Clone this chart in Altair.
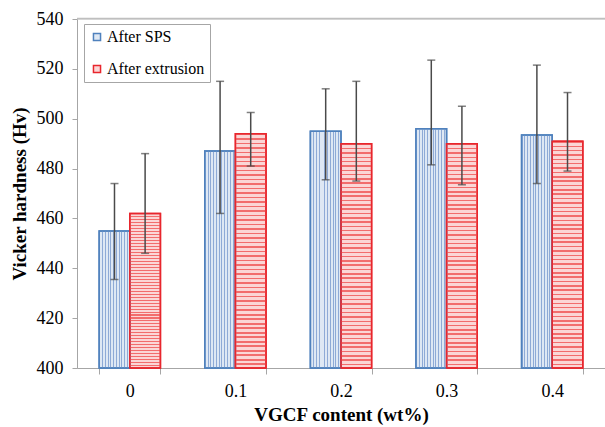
import altair as alt
import pandas as pd

categories = ["0", "0.1", "0.2", "0.3", "0.4"]
series = ["After SPS", "After extrusion"]
sps_mean = [455, 487, 495, 496, 493.5]
sps_low = [435.5, 462, 475.5, 481.5, 474]
sps_high = [474, 515, 512, 523.5, 521.5]
ext_mean = [462, 494, 490, 490, 491]
ext_low = [446, 481, 475, 473.5, 479]
ext_high = [486, 502.5, 515, 505, 510.5]
y_ticks = [400, 420, 440, 460, 480, 500, 520, 540]

rows = []
for i, c in enumerate(categories):
    rows.append(dict(cat=c, series=series[0], mean=sps_mean[i], lo=sps_low[i], hi=sps_high[i]))
    rows.append(dict(cat=c, series=series[1], mean=ext_mean[i], lo=ext_low[i], hi=ext_high[i]))
df = pd.DataFrame(rows)

W, H = 528, 349
FONT = "Liberation Serif"
BLUE_LINE = "#4f81bd"
RED_LINE = "#e8262d"
BLUE_BG = "#dee8f4"
RED_BG = "#fbd6d6"
ERR = "#4a4a4a"


def stripes(color, n, vertical):
    stops = []
    for k in range(n):
        a = k / n
        b = (k + 0.35) / n
        c = (k + 1) / n
        stops += [
            alt.GradientStop(color=color, offset=a),
            alt.GradientStop(color=color, offset=b),
            alt.GradientStop(color="rgba(255,255,255,0)", offset=b),
            alt.GradientStop(color="rgba(255,255,255,0)", offset=c),
        ]
    if vertical:
        return alt.LinearGradient(gradient="linear", stops=stops, x1=0, x2=1, y1=0, y2=0)
    return alt.LinearGradient(gradient="linear", stops=stops, x1=0, x2=0, y1=0, y2=1)


x_enc = alt.X(
    "cat:N",
    sort=categories,
    scale=alt.Scale(paddingInner=0.42, paddingOuter=0.21),
    axis=alt.Axis(
        title="VGCF content (wt%)",
        labelAngle=0,
        tickBand="extent",
        tickSize=6,
        tickColor="#a6a6a6",
        domainColor="#a6a6a6",
        labelPadding=8,
        titleY=52,
        titleBaseline="alphabetic",
    ),
)
xo_enc = alt.XOffset("series:N", sort=series, scale=alt.Scale(domain=series, paddingInner=0, paddingOuter=0))
y_scale = alt.Scale(domain=[400, 540], nice=False, zero=False)
y_enc = alt.Y(
    "mean:Q",
    scale=y_scale,
    axis=alt.Axis(
        title="Vicker hardness (Hv)",
        values=y_ticks,
        grid=False,
        tickSize=5,
        tickColor="#a6a6a6",
        domainColor="#a6a6a6",
        labelPadding=9,
        titleX=-58,
        titleY=H / 2,
        titleAngle=270,
        titleAlign="center",
        titleBaseline="middle",
    ),
)
y2_enc = alt.Y2(datum=400)

base = alt.Chart(df)

bars = base.mark_bar(strokeWidth=1.5).encode(
    x=x_enc,
    xOffset=xo_enc,
    y=y_enc,
    y2=y2_enc,
    fill=alt.Fill(
        "series:N",
        sort=series,
        scale=alt.Scale(domain=series, range=[BLUE_BG, RED_BG]),
        legend=alt.Legend(
            title=None,
            orient="none",
            legendX=7,
            legendY=5,
            symbolType="square",
            symbolSize=50,
            symbolStrokeWidth=1.5,
            rowPadding=16,
            padding=5,
            labelOffset=2,
            strokeColor="#a6a6a6",
            fillColor="#ffffff",
        ),
    ),
    stroke=alt.Stroke(
        "series:N",
        sort=series,
        scale=alt.Scale(domain=series, range=[BLUE_LINE, RED_LINE]),
    ),
)

blue_stripes = base.transform_filter(alt.datum.series == series[0]).mark_bar(
    fill=stripes("#8eaad6", 11, True), stroke=BLUE_LINE, strokeWidth=1.5
).encode(x=alt.X("cat:N", sort=categories), xOffset=alt.XOffset("series:N"), y=alt.Y("mean:Q"), y2=y2_enc)

red_stripes = base.transform_filter(alt.datum.series == series[1]).mark_bar(
    fill=stripes("#f26d6d", 52, False), stroke=RED_LINE, strokeWidth=1.5
).encode(x=alt.X("cat:N", sort=categories), xOffset=alt.XOffset("series:N"), y=alt.Y("mean:Q"), y2=y2_enc)

err = base.mark_rule(color=ERR, strokeWidth=1.5).encode(
    x=alt.X("cat:N", sort=categories),
    xOffset=alt.XOffset("series:N"),
    y=alt.Y("lo:Q"),
    y2="hi:Q",
)
cap_lo = base.mark_tick(color=ERR, thickness=1.5, size=8, orient="horizontal").encode(
    x=alt.X("cat:N", sort=categories), xOffset=alt.XOffset("series:N"), y=alt.Y("lo:Q")
)
cap_hi = base.mark_tick(color=ERR, thickness=1.5, size=8, orient="horizontal").encode(
    x=alt.X("cat:N", sort=categories), xOffset=alt.XOffset("series:N"), y=alt.Y("hi:Q")
)

top_line = alt.Chart(pd.DataFrame({"k": [0]})).mark_rule(color="#bfbfbf", strokeWidth=1.5).encode(
    x=alt.value(0), x2=alt.value(W), y=alt.value(-0.5)
)

chart = (
    alt.layer(top_line, bars, blue_stripes, red_stripes, err, cap_lo, cap_hi)
    .properties(
        width=W,
        height=H,
        autosize=alt.AutoSizeParams(type="none"),
        padding={"left": 77, "top": 19, "right": 0, "bottom": 59},
    )
    .configure_view(stroke=None)
    .configure(background="#ffffff", font=FONT)
    .configure_axis(
        labelFont=FONT,
        labelFontSize=18,
        labelColor="#000000",
        titleFont=FONT,
        titleFontSize=19,
        titleFontWeight="bold",
        titleColor="#000000",
    )
    .configure_legend(labelFont=FONT, labelFontSize=16, labelColor="#000000")
)

chart.save("out.html", embed_options={"renderer": "svg", "actions": False})
